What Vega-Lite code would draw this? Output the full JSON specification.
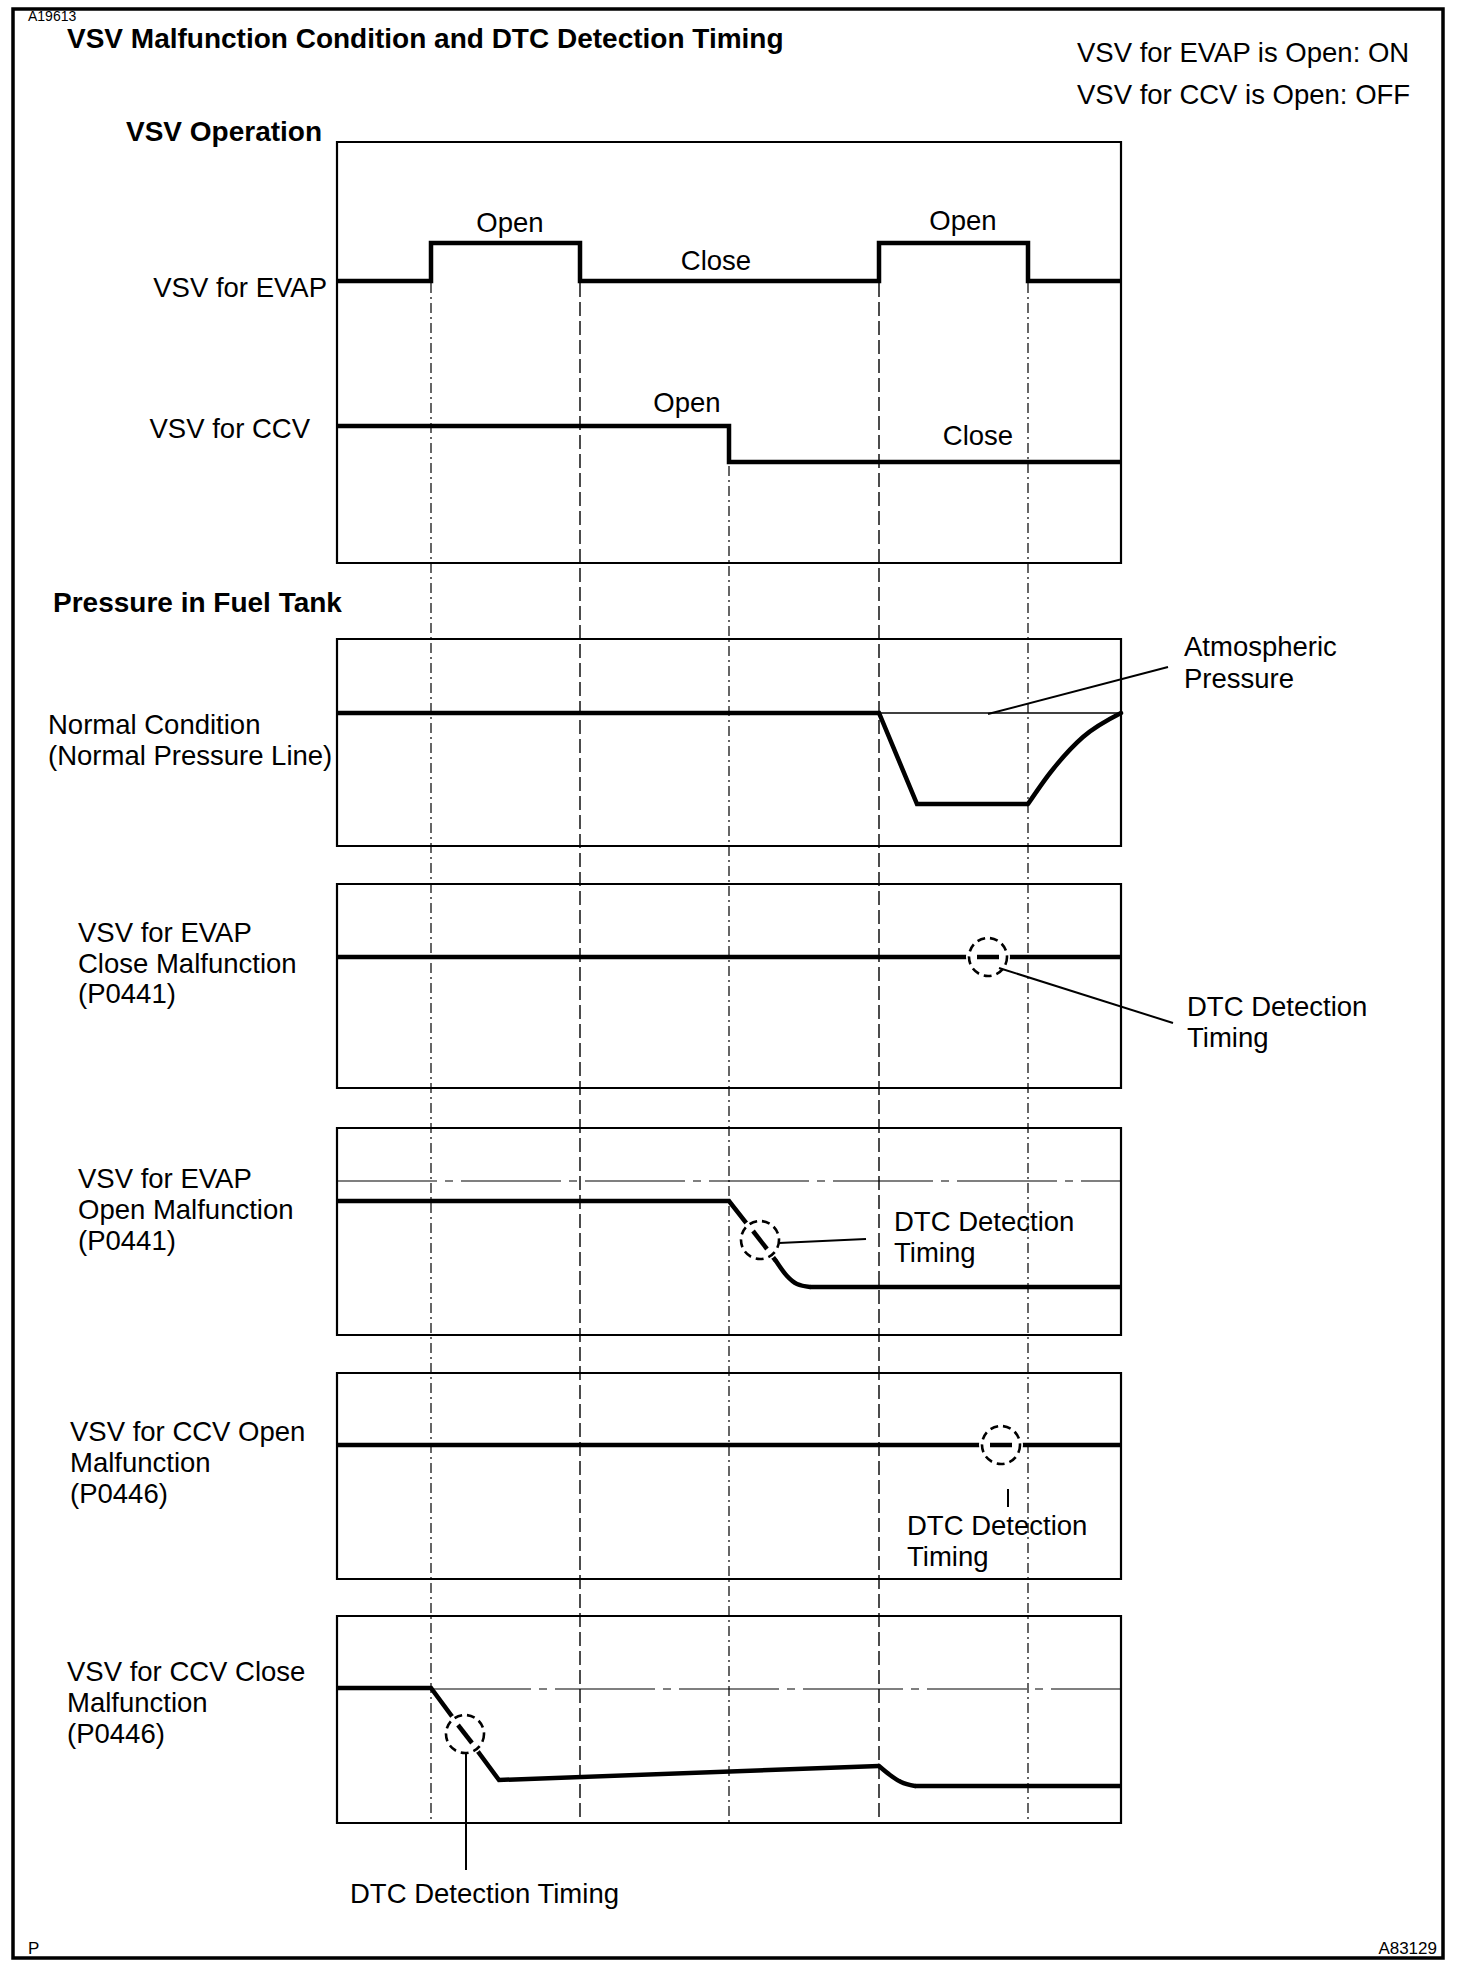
{
  "$schema": "https://vega.github.io/schema/vega-lite/v6.json",
  "width": 1472,
  "height": 1974,
  "autosize": {"type": "fit", "contains": "padding"},
  "padding": 0,
  "background": "white",
  "config": {"view": {"stroke": null}, "text": {"font": "Liberation Sans"}},
  "datasets": {
    "frame": [{"x": 13, "x2": 1443, "y": 9, "y2": 1958}],
    "boxes": [
      {"x": 337, "x2": 1121, "y": 142, "y2": 563},
      {"x": 337, "x2": 1121, "y": 639, "y2": 846},
      {"x": 337, "x2": 1121, "y": 884, "y2": 1088},
      {"x": 337, "x2": 1121, "y": 1128, "y2": 1335},
      {"x": 337, "x2": 1121, "y": 1373, "y2": 1579},
      {"x": 337, "x2": 1121, "y": 1616, "y2": 1823}
    ],
    "gridDashDot": [
      {"x": 431, "y": 283, "y2": 1823},
      {"x": 729, "y": 466, "y2": 1823},
      {"x": 1028, "y": 283, "y2": 1823}
    ],
    "gridDash": [
      {"x": 580, "y": 283, "y2": 1823},
      {"x": 879, "y": 283, "y2": 1823}
    ],
    "refs": [
      {"s": "evapOpenRef", "o": 1, "x": 337, "y": 1181},
      {"s": "evapOpenRef", "o": 2, "x": 1121, "y": 1181},
      {"s": "ccvCloseRef", "o": 1, "x": 431, "y": 1689},
      {"s": "ccvCloseRef", "o": 2, "x": 1121, "y": 1689}
    ],
    "thin": [
      {"s": "atm", "o": 1, "x": 879, "y": 713},
      {"s": "atm", "o": 2, "x": 1121, "y": 713}
    ],
    "signals": [
      {"s": "evap", "o": 1, "x": 337, "y": 281},
      {"s": "evap", "o": 2, "x": 431, "y": 281},
      {"s": "evap", "o": 3, "x": 431, "y": 243},
      {"s": "evap", "o": 4, "x": 580, "y": 243},
      {"s": "evap", "o": 5, "x": 580, "y": 281},
      {"s": "evap", "o": 6, "x": 879, "y": 281},
      {"s": "evap", "o": 7, "x": 879, "y": 243},
      {"s": "evap", "o": 8, "x": 1028, "y": 243},
      {"s": "evap", "o": 9, "x": 1028, "y": 281},
      {"s": "evap", "o": 10, "x": 1121, "y": 281},
      {"s": "ccv", "o": 1, "x": 337, "y": 426},
      {"s": "ccv", "o": 2, "x": 729, "y": 426},
      {"s": "ccv", "o": 3, "x": 729, "y": 462},
      {"s": "ccv", "o": 4, "x": 1121, "y": 462},
      {"s": "normal", "o": 1, "x": 337, "y": 713},
      {"s": "normal", "o": 2, "x": 879, "y": 713},
      {"s": "normal", "o": 3, "x": 917, "y": 804},
      {"s": "normal", "o": 4, "x": 1028, "y": 804},
      {"s": "evapClose", "o": 1, "x": 337, "y": 957},
      {"s": "evapClose", "o": 2, "x": 1121, "y": 957},
      {"s": "evapOpen", "o": 1, "x": 337, "y": 1201},
      {"s": "evapOpen", "o": 2, "x": 729, "y": 1201},
      {"s": "evapOpen", "o": 3, "x": 776, "y": 1261},
      {"s": "evapOpen2", "o": 1, "x": 810, "y": 1287},
      {"s": "evapOpen2", "o": 2, "x": 1121, "y": 1287},
      {"s": "ccvOpen", "o": 1, "x": 337, "y": 1445},
      {"s": "ccvOpen", "o": 2, "x": 1121, "y": 1445},
      {"s": "ccvClose", "o": 1, "x": 337, "y": 1688},
      {"s": "ccvClose", "o": 2, "x": 431, "y": 1688},
      {"s": "ccvClose", "o": 3, "x": 499, "y": 1780},
      {"s": "ccvClose", "o": 4, "x": 879, "y": 1766},
      {"s": "ccvClose2", "o": 1, "x": 915, "y": 1786},
      {"s": "ccvClose2", "o": 2, "x": 1121, "y": 1786}
    ],
    "curves": [
      {"s": "normalRise", "o": 1, "x": 1028, "y": 804},
      {"s": "normalRise", "o": 2, "x": 1050, "y": 773},
      {"s": "normalRise", "o": 3, "x": 1083, "y": 737},
      {"s": "normalRise", "o": 4, "x": 1121, "y": 713},
      {"s": "evapOpenBend", "o": 1, "x": 776, "y": 1261},
      {"s": "evapOpenBend", "o": 2, "x": 787, "y": 1276},
      {"s": "evapOpenBend", "o": 3, "x": 797, "y": 1284},
      {"s": "evapOpenBend", "o": 4, "x": 810, "y": 1287},
      {"s": "ccvCloseBend", "o": 1, "x": 879, "y": 1766},
      {"s": "ccvCloseBend", "o": 2, "x": 890, "y": 1775},
      {"s": "ccvCloseBend", "o": 3, "x": 901, "y": 1782},
      {"s": "ccvCloseBend", "o": 4, "x": 915, "y": 1786}
    ],
    "marks": [
      {"x": 988, "y": 957},
      {"x": 760, "y": 1240},
      {"x": 1001, "y": 1445},
      {"x": 465, "y": 1734}
    ],
    "inner": [
      {"s": "c1", "o": 1, "x": 977, "y": 957},
      {"s": "c1", "o": 2, "x": 999, "y": 957},
      {"s": "c2", "o": 1, "x": 753, "y": 1231},
      {"s": "c2", "o": 2, "x": 767, "y": 1249},
      {"s": "c3", "o": 1, "x": 990, "y": 1445},
      {"s": "c3", "o": 2, "x": 1012, "y": 1445},
      {"s": "c4", "o": 1, "x": 458, "y": 1725},
      {"s": "c4", "o": 2, "x": 472, "y": 1743}
    ],
    "leaders": [
      {"s": "atm", "o": 1, "x": 988, "y": 714},
      {"s": "atm", "o": 2, "x": 1168, "y": 667},
      {"s": "l1", "o": 1, "x": 999, "y": 968},
      {"s": "l1", "o": 2, "x": 1173, "y": 1023},
      {"s": "l2", "o": 1, "x": 779, "y": 1243},
      {"s": "l2", "o": 2, "x": 866, "y": 1239},
      {"s": "l3", "o": 1, "x": 1008, "y": 1489},
      {"s": "l3", "o": 2, "x": 1008, "y": 1507},
      {"s": "l4", "o": 1, "x": 466, "y": 1753},
      {"s": "l4", "o": 2, "x": 466, "y": 1870}
    ],
    "bold": [
      {"x": 67, "y": 48, "t": "VSV Malfunction Condition and DTC Detection Timing"},
      {"x": 126, "y": 141, "t": "VSV Operation"},
      {"x": 53, "y": 612, "t": "Pressure in Fuel Tank"}
    ],
    "left": [
      {"x": 1077, "y": 62, "t": "VSV for EVAP is Open: ON"},
      {"x": 1077, "y": 104, "t": "VSV for CCV is Open: OFF"},
      {"x": 48, "y": 734, "t": "Normal Condition"},
      {"x": 48, "y": 765, "t": "(Normal Pressure Line)"},
      {"x": 1184, "y": 656, "t": "Atmospheric"},
      {"x": 1184, "y": 688, "t": "Pressure"},
      {"x": 78, "y": 942, "t": "VSV for EVAP"},
      {"x": 78, "y": 973, "t": "Close Malfunction"},
      {"x": 78, "y": 1003, "t": "(P0441)"},
      {"x": 1187, "y": 1016, "t": "DTC Detection"},
      {"x": 1187, "y": 1047, "t": "Timing"},
      {"x": 78, "y": 1188, "t": "VSV for EVAP"},
      {"x": 78, "y": 1219, "t": "Open Malfunction"},
      {"x": 78, "y": 1250, "t": "(P0441)"},
      {"x": 894, "y": 1231, "t": "DTC Detection"},
      {"x": 894, "y": 1262, "t": "Timing"},
      {"x": 70, "y": 1441, "t": "VSV for CCV Open"},
      {"x": 70, "y": 1472, "t": "Malfunction"},
      {"x": 70, "y": 1503, "t": "(P0446)"},
      {"x": 907, "y": 1535, "t": "DTC Detection"},
      {"x": 907, "y": 1566, "t": "Timing"},
      {"x": 67, "y": 1681, "t": "VSV for CCV Close"},
      {"x": 67, "y": 1712, "t": "Malfunction"},
      {"x": 67, "y": 1743, "t": "(P0446)"},
      {"x": 350, "y": 1903, "t": "DTC Detection Timing"}
    ],
    "center": [
      {"x": 510, "y": 232, "t": "Open"},
      {"x": 716, "y": 270, "t": "Close"},
      {"x": 963, "y": 230, "t": "Open"},
      {"x": 687, "y": 412, "t": "Open"},
      {"x": 978, "y": 445, "t": "Close"}
    ],
    "right": [
      {"x": 327, "y": 297, "t": "VSV for EVAP"},
      {"x": 310, "y": 438, "t": "VSV for CCV"}
    ],
    "tiny": [
      {"x": 28, "y": 21, "t": "A19613"}
    ],
    "smallLeft": [
      {"x": 28, "y": 1954, "t": "P"}
    ],
    "smallRight": [
      {"x": 1437, "y": 1954, "t": "A83129"}
    ]
  },
  "encoding": {
    "x": {"field": "x", "type": "quantitative", "scale": {"domain": [0, 1472], "nice": false, "zero": false}, "axis": null},
    "y": {"field": "y", "type": "quantitative", "scale": {"domain": [0, 1974], "nice": false, "zero": false, "reverse": true}, "axis": null}
  },
  "layer": [
    {
      "data": {"name": "boxes"},
      "mark": {"type": "rect", "fill": "white", "fillOpacity": 0, "stroke": "black", "strokeWidth": 2.2},
      "encoding": {"x2": {"field": "x2"}, "y2": {"field": "y2"}}
    },
    {
      "data": {"name": "gridDashDot"},
      "mark": {"type": "rule", "stroke": "black", "strokeWidth": 1.2, "strokeDash": [10, 4, 2, 4]},
      "encoding": {"y2": {"field": "y2"}}
    },
    {
      "data": {"name": "gridDash"},
      "mark": {"type": "rule", "stroke": "black", "strokeWidth": 1.4, "strokeDash": [14, 5]},
      "encoding": {"y2": {"field": "y2"}}
    },
    {
      "data": {"name": "refs"},
      "mark": {"type": "line", "stroke": "black", "strokeWidth": 1.2, "strokeDash": [100, 8, 8, 8]},
      "encoding": {"detail": {"field": "s"}, "order": {"field": "o", "type": "quantitative"}}
    },
    {
      "data": {"name": "thin"},
      "mark": {"type": "line", "stroke": "black", "strokeWidth": 1.3},
      "encoding": {"detail": {"field": "s"}, "order": {"field": "o", "type": "quantitative"}}
    },
    {
      "data": {"name": "signals"},
      "mark": {"type": "line", "stroke": "black", "strokeWidth": 4.5, "strokeJoin": "miter", "strokeCap": "butt"},
      "encoding": {"detail": {"field": "s"}, "order": {"field": "o", "type": "quantitative"}}
    },
    {
      "data": {"name": "curves"},
      "mark": {"type": "line", "stroke": "black", "strokeWidth": 4.5, "interpolate": "monotone", "strokeCap": "round"},
      "encoding": {"detail": {"field": "s"}, "order": {"field": "o", "type": "quantitative"}}
    },
    {
      "data": {"name": "marks"},
      "mark": {"type": "point", "shape": "circle", "filled": true, "fill": "white", "opacity": 1, "size": 1936, "strokeWidth": 0}
    },
    {
      "data": {"name": "marks"},
      "mark": {"type": "point", "shape": "circle", "filled": false, "stroke": "black", "opacity": 1, "size": 1444, "strokeWidth": 2.6, "strokeDash": [8, 5]}
    },
    {
      "data": {"name": "inner"},
      "mark": {"type": "line", "stroke": "black", "strokeWidth": 4.5, "strokeCap": "butt"},
      "encoding": {"detail": {"field": "s"}, "order": {"field": "o", "type": "quantitative"}}
    },
    {
      "data": {"name": "leaders"},
      "mark": {"type": "line", "stroke": "black", "strokeWidth": 2},
      "encoding": {"detail": {"field": "s"}, "order": {"field": "o", "type": "quantitative"}}
    },
    {
      "data": {"name": "bold"},
      "mark": {"type": "text", "align": "left", "baseline": "alphabetic", "fontSize": 28, "fontWeight": "bold", "color": "black"},
      "encoding": {"text": {"field": "t"}}
    },
    {
      "data": {"name": "left"},
      "mark": {"type": "text", "align": "left", "baseline": "alphabetic", "fontSize": 27.5, "color": "black"},
      "encoding": {"text": {"field": "t"}}
    },
    {
      "data": {"name": "center"},
      "mark": {"type": "text", "align": "center", "baseline": "alphabetic", "fontSize": 27.5, "color": "black"},
      "encoding": {"text": {"field": "t"}}
    },
    {
      "data": {"name": "right"},
      "mark": {"type": "text", "align": "right", "baseline": "alphabetic", "fontSize": 27.5, "color": "black"},
      "encoding": {"text": {"field": "t"}}
    },
    {
      "data": {"name": "tiny"},
      "mark": {"type": "text", "align": "left", "baseline": "alphabetic", "fontSize": 14, "color": "black"},
      "encoding": {"text": {"field": "t"}}
    },
    {
      "data": {"name": "smallLeft"},
      "mark": {"type": "text", "align": "left", "baseline": "alphabetic", "fontSize": 17, "color": "black"},
      "encoding": {"text": {"field": "t"}}
    },
    {
      "data": {"name": "smallRight"},
      "mark": {"type": "text", "align": "right", "baseline": "alphabetic", "fontSize": 17, "color": "black"},
      "encoding": {"text": {"field": "t"}}
    },
    {
      "data": {"name": "frame"},
      "mark": {"type": "rect", "fill": "white", "fillOpacity": 0, "stroke": "black", "strokeWidth": 3.5},
      "encoding": {"x2": {"field": "x2"}, "y2": {"field": "y2"}}
    }
  ]
}
